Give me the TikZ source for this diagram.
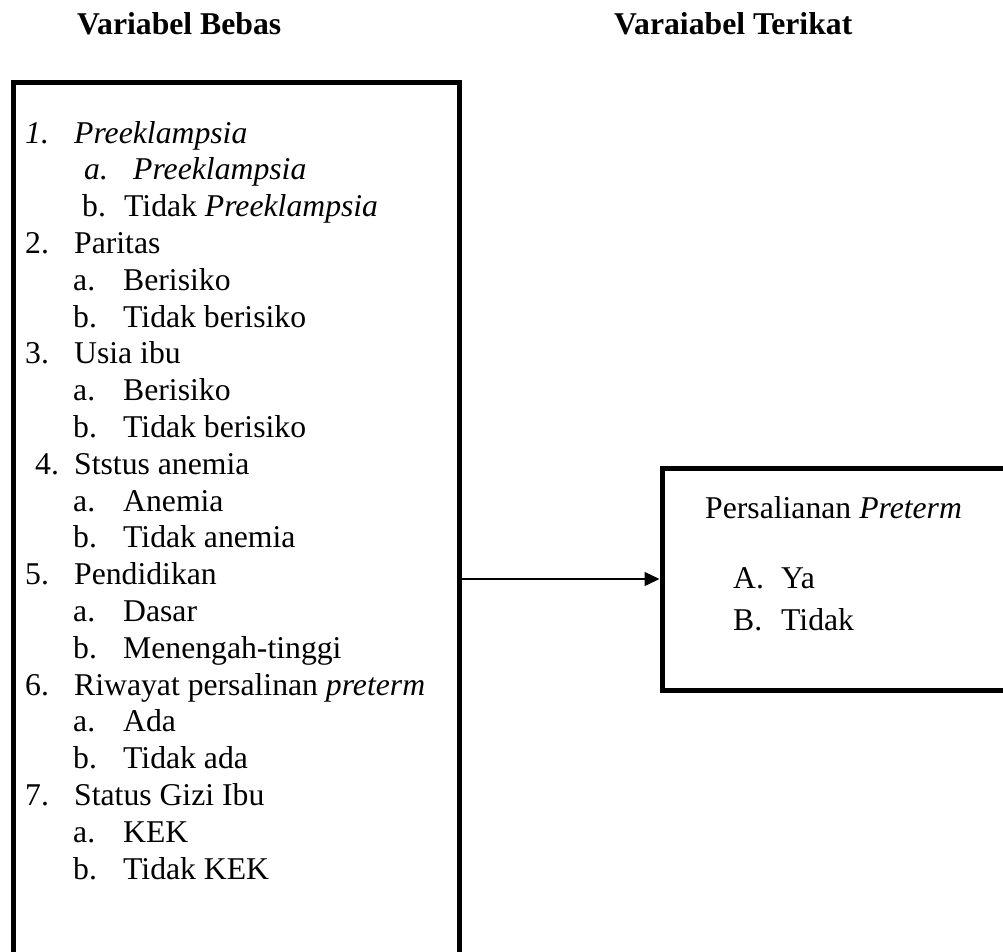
\documentclass[tikz,border=0pt]{standalone}
\usepackage{fontspec}
\setmainfont{Liberation Serif}
\usetikzlibrary{arrows.meta}
\tikzset{
  caja/.style={draw, line width=5pt, rectangle, inner sep=0pt},
  renglon/.style={anchor=base west, inner sep=0pt},
  titulo/.style={renglon, font=\fontsize{31.7}{36.8}\selectfont\bfseries},
}
\begin{document}
\begin{tikzpicture}[x=1pt, y=-1pt, font=\fontsize{31.7}{36.8}\selectfont]
    \useasboundingbox (0,0) rectangle (1003,951);

    % Titulos
    \node[titulo] (tbebas) at (77,34) {Variabel Bebas};
    \node[titulo] (tterikat) at (614,34) {Varaiabel Terikat};

    % Cajas
    \node[caja, minimum width=446pt, minimum height=930pt] (bebas) at (236,547) {};
    \node[caja, minimum width=348pt, minimum height=222pt] (terikat) at (836,579) {};

    % Variabel bebas
    \node[renglon] (p1) at (25,143) {\makebox[49pt][l]{\textit{1.}}\textit{Preeklampsia}};
    \node[renglon] (p1a) at (84,179.8) {\makebox[49pt][l]{\textit{a.}}\textit{Preeklampsia}};
    \node[renglon] (p1b) at (82,216.6) {\makebox[42pt][l]{b.}Tidak \textit{Preeklampsia}};
    \node[renglon] (p2) at (25,253.4) {\makebox[49pt][l]{2.}Paritas};
    \node[renglon] (p2a) at (73,290.2) {\makebox[50pt][l]{a.}Berisiko};
    \node[renglon] (p2b) at (73,327) {\makebox[50pt][l]{b.}Tidak berisiko};
    \node[renglon] (p3) at (25,363.8) {\makebox[49pt][l]{3.}Usia ibu};
    \node[renglon] (p3a) at (73,400.6) {\makebox[50pt][l]{a.}Berisiko};
    \node[renglon] (p3b) at (73,437.4) {\makebox[50pt][l]{b.}Tidak berisiko};
    \node[renglon] (p4) at (35,474.2) {\makebox[39pt][l]{4.}Ststus anemia};
    \node[renglon] (p4a) at (73,511) {\makebox[50pt][l]{a.}Anemia};
    \node[renglon] (p4b) at (73,547.8) {\makebox[50pt][l]{b.}Tidak anemia};
    \node[renglon] (p5) at (25,584.6) {\makebox[49pt][l]{5.}Pendidikan};
    \node[renglon] (p5a) at (73,621.4) {\makebox[50pt][l]{a.}Dasar};
    \node[renglon] (p5b) at (73,658.2) {\makebox[50pt][l]{b.}Menengah-tinggi};
    \node[renglon] (p6) at (25,695) {\makebox[49pt][l]{6.}Riwayat persalinan \textit{preterm}};
    \node[renglon] (p6a) at (73,731.8) {\makebox[50pt][l]{a.}Ada};
    \node[renglon] (p6b) at (73,768.6) {\makebox[50pt][l]{b.}Tidak ada};
    \node[renglon] (p7) at (25,805.4) {\makebox[49pt][l]{7.}Status Gizi Ibu};
    \node[renglon] (p7a) at (73,842.2) {\makebox[50pt][l]{a.}KEK};
    \node[renglon] (p7b) at (73,879) {\makebox[50pt][l]{b.}Tidak KEK};

    % Variabel terikat
    \node[renglon] (hasil) at (705,518) {Persalianan \textit{Preterm}};
    \node[renglon] (hasila) at (733,588) {\makebox[48pt][l]{A.}Ya};
    \node[renglon] (hasilb) at (733,630) {\makebox[48pt][l]{B.}Tidak};

    % Flecha
    \draw[-{Triangle[length=15pt,width=14pt]}, line width=1.3pt] (bebas.east |- terikat.west) -- (terikat.west);
\end{tikzpicture}
\end{document}
